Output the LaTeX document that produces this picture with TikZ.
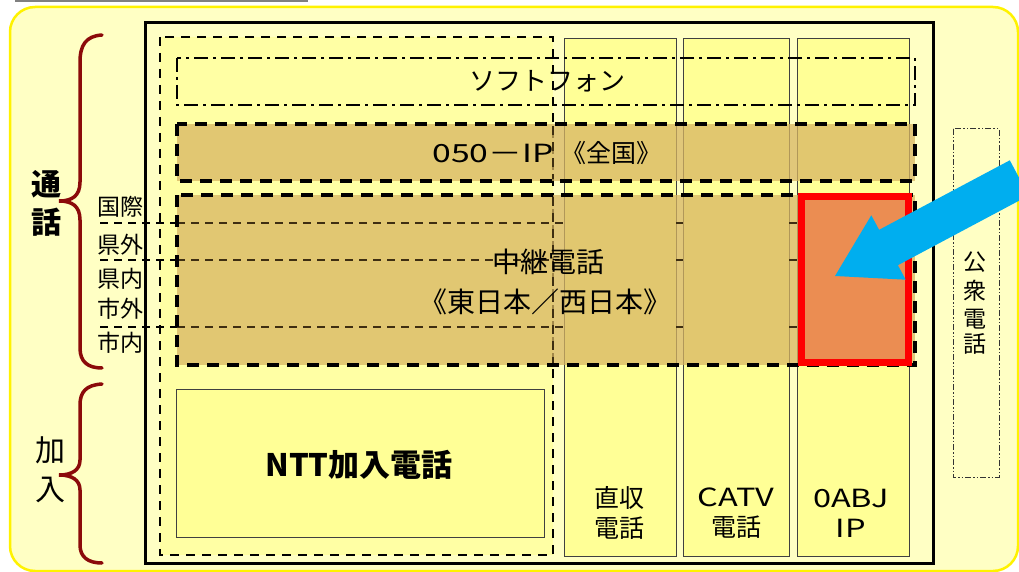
\documentclass[tikz,border=0pt]{standalone}
\usepackage{fontspec}
\setmainfont{Noto Sans CJK JP}
\usetikzlibrary{calc}
\definecolor{paleY}{HTML}{FFFFC4}
\definecolor{midY}{HTML}{FFFFA4}
\definecolor{colY}{HTML}{FFFF96}
\definecolor{tanC}{RGB}{216,181,98}
\definecolor{darkBr}{HTML}{3E2E12}
\definecolor{braceR}{HTML}{8B0A0A}
\definecolor{orangeF}{HTML}{EB8D52}
\definecolor{arrowB}{HTML}{00AEEF}
\tikzset{
  brace/.style={draw=braceR,line width=3.5pt,line cap=round},
  colbox/.style={draw=black!75,line width=1pt,fill=colY},
  tanbox/.style={fill=tanC,fill opacity=0.75,draw=none},
  tanedge/.style={draw=black,line width=4pt,dash pattern=on 12pt off 8pt},
  lvline/.style={line width=1.6pt,dash pattern=on 8pt off 6pt},
  lbl/.style={inner sep=0pt,font=\fontsize{23}{23}\selectfont},
  big/.style={inner sep=0pt,font=\fontsize{28}{28}\selectfont},
  coltxt/.style={inner sep=0pt,align=center,font=\fontsize{25}{30}\selectfont},
}
\begin{document}
\begin{tikzpicture}[x=1pt,y=-1pt]
\useasboundingbox (0,0) rectangle (1019,572);
% outer rounded background
\draw[fill=paleY,draw=yellow,line width=2.5pt,rounded corners=25pt] (10,7) rectangle (1018,571);
\draw[gray,line width=2pt] (15,1) -- (308,1);
% NTT dashed region fill
\fill[midY] (160,37) rectangle (553,555);
% level dashed lines
\foreach \yy/\nm in {223/a,260/b,327/c}{
  \coordinate (L\nm1) at (100,\yy);
  \coordinate (L\nm2) at (177,\yy);
  \coordinate (L\nm3) at (564,\yy);
  \coordinate (L\nm4) at (676,\yy);
  \coordinate (L\nm5) at (683,\yy);
  \coordinate (L\nm6) at (789,\yy);
  \coordinate (L\nm7) at (797,\yy);
  \draw[lvline,black] (L\nm1) -- (L\nm2);
}
% columns
\node[colbox,minimum width=112pt,minimum height=518pt,anchor=north west,inner sep=0pt] (c1) at (564,38) {};
\node[colbox,minimum width=106pt,minimum height=518pt,anchor=north west,inner sep=0pt] (c2) at (683,38) {};
\node[colbox,minimum width=112pt,minimum height=518pt,anchor=north west,inner sep=0pt] (c3) at (797,38) {};
% NTT dashed box
\draw[black,line width=2.2pt,dash pattern=on 9pt off 7pt] (160,37) rectangle (553,555);
% NTT box
\node[colbox,minimum width=368pt,minimum height=148pt,anchor=north west,inner sep=0pt] (ntt) at (176,389) {};
\node[inner sep=0pt,font=\bfseries\fontsize{31}{31}\selectfont] at (359,465) {NTT加入電話};
% softphone
\draw[black,line width=2.2pt,dash pattern=on 14pt off 5pt on 3pt off 5pt] (177,58) rectangle (915,105);
\node[inner sep=0pt,font=\fontsize{26}{26}\selectfont] (soft) at (547,81) {ソフトフォン};
% 050-IP
\fill[tanbox] (177,124) rectangle (915,181);
\draw[tanedge] (177,124) rectangle (915,181);
\node[inner sep=0pt,font=\fontsize{25}{25}\selectfont] (ip) at (547,153) {\scalebox{1.35}[1]{050－IP}\hspace{8pt}《全国》};
% relay
\fill[tanbox] (177,195) rectangle (915,365);
% lines seen through the tan
\foreach \nm in {a,b,c}{
  \draw[lvline,darkBr] (L\nm2) -- (L\nm3);
  \draw[lvline,darkBr] (L\nm4) -- (L\nm5);
  \draw[lvline,darkBr] (L\nm6) -- (L\nm7);
}
\draw[darkBr,line width=2.2pt,dash pattern=on 9pt off 7pt] (553,197) -- (553,363);
\draw[darkBr,line width=2.2pt,dash pattern=on 9pt off 7pt] (553,126) -- (553,179);
\draw[tanedge] (177,195) rectangle (915,365);
\node[big] (relay1) at (548,262) {中継電話};
\node[big] (relay2) at (545,302) {《東日本／西日本》};
% red box
\draw[red,line width=7pt,fill=orangeF] (801.5,196.5) rectangle (908.5,362.5);
\coordinate (tip) at (835,276);
% column labels
\node[coltxt] at (619,513) {直収\\電話};
\node[coltxt] at (736,513) {\scalebox{1.3}[1]{CATV}\\電話};
\node[coltxt] at (851,513) {\scalebox{1.3}[1]{0ABJ}\\\scalebox{1.3}[1]{IP}};
% frame
\draw[black,line width=3pt] (145,23) rectangle (933,563);
% public phone
\draw[black!80,line width=1pt,dash pattern=on 6pt off 2pt on 1.5pt off 2pt on 1.5pt off 2pt] (953,129) rectangle (999,477);
\node[lbl] at (975,262) {公};
\node[lbl] at (975,291) {衆};
\node[lbl] at (975,319) {電};
\node[lbl] at (975,344) {話};
% level labels
\node[lbl] at (120,207) {国際};
\node[lbl] at (120,245) {県外};
\node[lbl] at (120,279) {県内};
\node[lbl] at (120,309) {市外};
\node[lbl] at (120,343) {市内};
% braces
\draw[brace] (102,35) .. controls (86,36) and (80,45) .. (80,62) -- (80,182) .. controls (80,196) and (72,201) .. (59,201) .. controls (72,201) and (80,206) .. (80,220) -- (80,348) .. controls (80,362) and (88,368) .. (102,368);
\draw[brace] (102,384) .. controls (86,385) and (80,392) .. (80,405) -- (80,460) .. controls (80,470) and (72,475) .. (59,475) .. controls (72,475) and (80,480) .. (80,490) -- (80,545) .. controls (80,557) and (88,563) .. (102,563);
\node[inner sep=0pt,font=\bfseries\fontsize{30}{30}\selectfont] at (46,184) {通};
\node[inner sep=0pt,font=\bfseries\fontsize{30}{30}\selectfont] at (46,222) {話};
\node[inner sep=0pt,font=\fontsize{30}{30}\selectfont] at (50,450) {加};
\node[inner sep=0pt,font=\fontsize{30}{30}\selectfont] at (50,490) {入};
% blue arrow
\begin{scope}
\clip (0,0) rectangle (1019,572);
\fill[arrowB] (tip) -- ($(tip)+(70.7,3.7)$) -- ($(tip)+(62.9,-10.8)$) -- ($(tip)+(193.6,-80.4)$) -- ($(tip)+(174.8,-115.7)$) -- ($(tip)+(44.1,-46.2)$) -- ($(tip)+(36.3,-60.7)$) -- cycle;
\end{scope}
\end{tikzpicture}
\end{document}
